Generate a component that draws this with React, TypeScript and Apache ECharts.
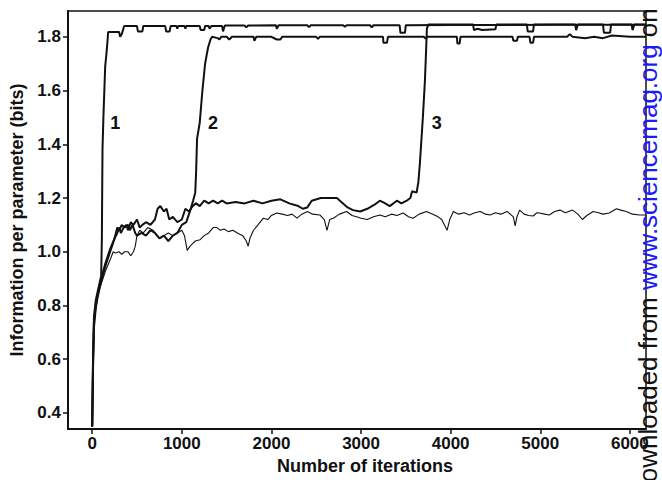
import React, { useEffect, useRef } from "react";
import * as echarts from "echarts";

const xTicks = [0, 1000, 2000, 3000, 4000, 5000, 6000];
const yTicks = [0.4, 0.6, 0.8, 1.0, 1.2, 1.4, 1.6, 1.8];

const curve1: [number, number][] = [
  [0, 0.35], [10, 0.62], [20, 0.76], [40, 0.82], [60, 0.85], [80, 0.88], [100, 0.91],
  [108, 1.05], [111, 1.2], [115, 1.38], [125, 1.5], [145, 1.69], [160, 1.74], [170, 1.78],
  [178, 1.818], [250, 1.818], [300, 1.818], [312, 1.8], [330, 1.81], [357, 1.84], [420, 1.84],
  [500, 1.84], [510, 1.82], [560, 1.82], [570, 1.84], [700, 1.84], [815, 1.84], [825, 1.82],
  [865, 1.82], [875, 1.84], [940, 1.84], [950, 1.83], [960, 1.84], [1030, 1.84], [1040, 1.83],
  [1050, 1.84], [1200, 1.84], [1210, 1.825], [1250, 1.825], [1260, 1.84], [1300, 1.84],
  [1310, 1.83], [1330, 1.84], [1450, 1.84], [1460, 1.82], [1480, 1.842], [1700, 1.842],
  [1720, 1.835], [1740, 1.842], [2050, 1.843], [2060, 1.83], [2080, 1.843], [2400, 1.843],
  [2420, 1.836], [2440, 1.843], [2800, 1.843], [2820, 1.838], [2840, 1.843], [3100, 1.843],
  [3120, 1.835], [3140, 1.843], [3430, 1.843], [3440, 1.815], [3490, 1.815], [3500, 1.843],
  [4000, 1.844], [4600, 1.844], [5200, 1.845], [6180, 1.845],
];

const curve2: [number, number][] = [
  [0, 0.35], [10, 0.6], [20, 0.74], [40, 0.8], [60, 0.84], [80, 0.87], [100, 0.9], [150, 0.96],
  [200, 1.01], [250, 1.05], [280, 1.09], [300, 1.08], [330, 1.1], [360, 1.09], [400, 1.1],
  [420, 1.08], [450, 1.1], [480, 1.07], [500, 1.06], [550, 1.07], [600, 1.06], [650, 1.08],
  [700, 1.07], [750, 1.05], [800, 1.06], [850, 1.04], [900, 1.06], [950, 1.07], [1000, 1.1],
  [1050, 1.11], [1080, 1.14], [1100, 1.16], [1126, 1.19], [1150, 1.22], [1160, 1.3],
  [1170, 1.42], [1200, 1.48], [1230, 1.6], [1260, 1.7], [1271, 1.72], [1293, 1.76],
  [1320, 1.79], [1338, 1.8], [1400, 1.795], [1420, 1.79], [1440, 1.8], [1500, 1.8],
  [1530, 1.79], [1560, 1.8], [1800, 1.8], [1810, 1.785], [1830, 1.8], [2000, 1.8],
  [2060, 1.79], [2100, 1.79], [2120, 1.8], [2500, 1.8], [2520, 1.792], [2540, 1.8],
  [3245, 1.8], [3250, 1.778], [3290, 1.778], [3300, 1.8], [3700, 1.8], [3720, 1.793],
  [3740, 1.8], [4070, 1.8], [4075, 1.775], [4100, 1.775], [4110, 1.8], [4690, 1.8],
  [4700, 1.785], [4740, 1.785], [4750, 1.8], [4880, 1.8], [4890, 1.778], [4920, 1.778],
  [4930, 1.8], [5300, 1.8], [5330, 1.81], [5360, 1.8], [5500, 1.795], [5600, 1.8],
  [5700, 1.795], [5800, 1.805], [6000, 1.8], [6180, 1.8],
];

const curve3: [number, number][] = [
  [0, 0.35], [10, 0.58], [20, 0.72], [40, 0.79], [60, 0.83], [80, 0.86], [100, 0.89],
  [150, 0.95], [200, 1.0], [250, 1.05], [280, 1.07], [300, 1.09], [320, 1.07], [350, 1.09],
  [380, 1.1], [400, 1.08], [430, 1.11], [460, 1.1], [500, 1.12], [530, 1.09], [560, 1.1],
  [600, 1.11], [650, 1.1], [700, 1.12], [730, 1.16], [760, 1.17], [800, 1.15], [830, 1.16],
  [860, 1.12], [900, 1.13], [950, 1.11], [1000, 1.12], [1040, 1.16], [1080, 1.15],
  [1120, 1.17], [1160, 1.18], [1200, 1.17], [1250, 1.19], [1300, 1.18], [1350, 1.19],
  [1400, 1.18], [1450, 1.19], [1500, 1.18], [1600, 1.185], [1700, 1.18], [1800, 1.19],
  [1900, 1.18], [2000, 1.19], [2100, 1.195], [2200, 1.18], [2300, 1.17], [2350, 1.16],
  [2400, 1.165], [2450, 1.19], [2550, 1.2], [2650, 1.2], [2730, 1.2], [2780, 1.185],
  [2850, 1.165], [2910, 1.155], [2990, 1.15], [3070, 1.16], [3150, 1.175], [3210, 1.19],
  [3270, 1.18], [3320, 1.17], [3400, 1.19], [3450, 1.18], [3510, 1.19], [3550, 1.2],
  [3570, 1.225], [3620, 1.22], [3640, 1.26], [3657, 1.33], [3690, 1.5], [3712, 1.63],
  [3725, 1.74], [3735, 1.83], [3750, 1.846], [4250, 1.846], [4260, 1.825], [4300, 1.83],
  [4350, 1.825], [4500, 1.828], [4510, 1.846], [4850, 1.846], [4860, 1.82], [4920, 1.82],
  [4930, 1.846], [5390, 1.846], [5400, 1.825], [5420, 1.846], [5700, 1.846], [5710, 1.815],
  [5780, 1.815], [5790, 1.846], [6020, 1.846], [6030, 1.825], [6050, 1.846], [6180, 1.846],
];

const curve4: [number, number][] = [
  [0, 0.35], [10, 0.6], [20, 0.73], [40, 0.8], [60, 0.83], [80, 0.86], [100, 0.88], [150, 0.93],
  [200, 0.97], [235, 1.0], [260, 0.995], [300, 1.0], [330, 0.99], [360, 1.0], [400, 1.0],
  [430, 0.985], [460, 1.0], [480, 1.02], [500, 1.06], [530, 1.08], [570, 1.07], [620, 1.09],
  [680, 1.08], [720, 1.06], [760, 1.05], [800, 1.06], [850, 1.07], [900, 1.06], [950, 1.07],
  [1000, 1.08], [1030, 1.06], [1060, 1.005], [1090, 1.02], [1120, 1.03], [1150, 1.04],
  [1204, 1.045], [1250, 1.06], [1300, 1.07], [1350, 1.09], [1390, 1.09], [1430, 1.08],
  [1470, 1.085], [1520, 1.075], [1570, 1.08], [1620, 1.07], [1680, 1.06], [1720, 1.04],
  [1740, 1.02], [1760, 1.05], [1800, 1.08], [1850, 1.1], [1910, 1.125], [1960, 1.12],
  [2000, 1.135], [2060, 1.144], [2120, 1.14], [2180, 1.135], [2230, 1.14], [2285, 1.125],
  [2340, 1.14], [2400, 1.15], [2460, 1.14], [2540, 1.137], [2590, 1.12], [2620, 1.08],
  [2650, 1.12], [2690, 1.125], [2760, 1.14], [2840, 1.15], [2900, 1.135], [2950, 1.13],
  [3000, 1.125], [3070, 1.12], [3140, 1.13], [3210, 1.137], [3270, 1.13], [3340, 1.14],
  [3400, 1.135], [3470, 1.144], [3530, 1.13], [3580, 1.125], [3650, 1.14], [3730, 1.15],
  [3800, 1.14], [3860, 1.13], [3900, 1.12], [3960, 1.08], [3990, 1.12], [4030, 1.15],
  [4090, 1.14], [4150, 1.145], [4210, 1.137], [4270, 1.145], [4330, 1.15], [4390, 1.14],
  [4440, 1.137], [4500, 1.145], [4560, 1.14], [4630, 1.15], [4700, 1.13], [4720, 1.096],
  [4740, 1.13], [4770, 1.155], [4820, 1.14], [4870, 1.135], [4920, 1.133], [4960, 1.145],
  [4990, 1.144], [5050, 1.14], [5100, 1.137], [5160, 1.15], [5220, 1.155], [5280, 1.145],
  [5360, 1.155], [5420, 1.14], [5470, 1.12], [5520, 1.135], [5590, 1.15], [5650, 1.145],
  [5700, 1.14], [5770, 1.144], [5850, 1.16], [5900, 1.155], [5960, 1.15], [6030, 1.14],
  [6110, 1.137], [6180, 1.137],
];

const curveLabels: [number, number, string][] = [
  [256, 1.48, "1"],
  [1349, 1.48, "2"],
  [3846, 1.48, "3"],
];

const FONT = "'Liberation Sans', Arial, Helvetica, sans-serif";

export default function App() {
  const ref = useRef<HTMLDivElement>(null);
  useEffect(() => {
    if (!ref.current) return;
    const chart = echarts.init(ref.current, undefined, { renderer: "svg" });
    const lineSeries = (data: [number, number][], width: number) => ({
      type: "line",
      data,
      symbol: "none",
      lineStyle: { color: "#111", width },
      z: 3,
    });
    chart.setOption({
      animation: false,
      backgroundColor: "#fff",
      grid: {
        left: 68,
        right: 16,
        top: 11,
        bottom: 47,
        show: true,
        borderColor: "#111",
        borderWidth: 1.5,
        backgroundColor: "transparent",
      },
      xAxis: {
        type: "value",
        min: -270,
        max: 6180,
        name: "Number of iterations",
        nameLocation: "middle",
        nameGap: 24,
        nameTextStyle: {
          fontFamily: FONT,
          fontWeight: "bold",
          fontSize: 18,
          color: "#111",
          padding: [0, 0, 0, 16],
        },
        splitLine: { show: false },
        axisLine: { show: true, onZero: false, lineStyle: { color: "#111", width: 2 } },
        axisTick: { show: true, length: 5, customValues: xTicks, lineStyle: { color: "#111", width: 1.5 } },
        axisLabel: {
          customValues: xTicks,
          margin: 6,
          fontFamily: FONT,
          fontWeight: "bold",
          fontSize: 17,
          color: "#111",
          formatter: (v: number) => String(Math.round(v)),
        },
      },
      yAxis: {
        type: "value",
        min: 0.34,
        max: 1.896,
        name: "Information per parameter (bits)",
        nameLocation: "middle",
        nameGap: 38,
        nameTextStyle: {
          fontFamily: FONT,
          fontWeight: "bold",
          fontSize: 18,
          color: "#111",
        },
        splitLine: { show: false },
        axisLine: { show: true, onZero: false, lineStyle: { color: "#111", width: 2 } },
        axisTick: { show: true, length: 5, customValues: yTicks, lineStyle: { color: "#111", width: 1.5 } },
        axisLabel: {
          customValues: yTicks,
          margin: 7,
          fontFamily: FONT,
          fontWeight: "bold",
          fontSize: 17,
          color: "#111",
          formatter: (v: number) => v.toFixed(1),
        },
      },
      series: [
        lineSeries(curve4, 1.1),
        lineSeries(curve3, 2),
        lineSeries(curve2, 2),
        lineSeries(curve1, 2),
        {
          type: "scatter",
          data: curveLabels.map((d) => ({ value: [d[0], d[1]], name: d[2] })),
          symbol: "circle",
          symbolSize: 2,
          itemStyle: { color: "#fff", opacity: 1 },
          label: {
            show: true,
            position: "inside",
            formatter: (p: any) => p.name,
            fontFamily: FONT,
            fontWeight: "bold",
            fontSize: 18,
            color: "#111",
            opacity: 1,
            textBorderWidth: 0,
          },
          z: 5,
        },
      ],
      graphic: [
        {
          type: "text",
          x: 661,
          y: 501,
          rotation: Math.PI / 2,
          z: 100,
          style: {
            text: "{k|Downloaded from }{b|www.sciencemag.org}{k| on}",
            align: "left",
            verticalAlign: "bottom",
            rich: {
              k: { fontFamily: FONT, fontSize: 26, fill: "#111" },
              b: { fontFamily: FONT, fontSize: 26, fill: "#1a1aff" },
            },
          },
        },
      ],
    });
    return () => chart.dispose();
  }, []);
  return <div ref={ref} style={{ width: 662, height: 480, position: "absolute", left: 0, top: 0 }} />;
}
